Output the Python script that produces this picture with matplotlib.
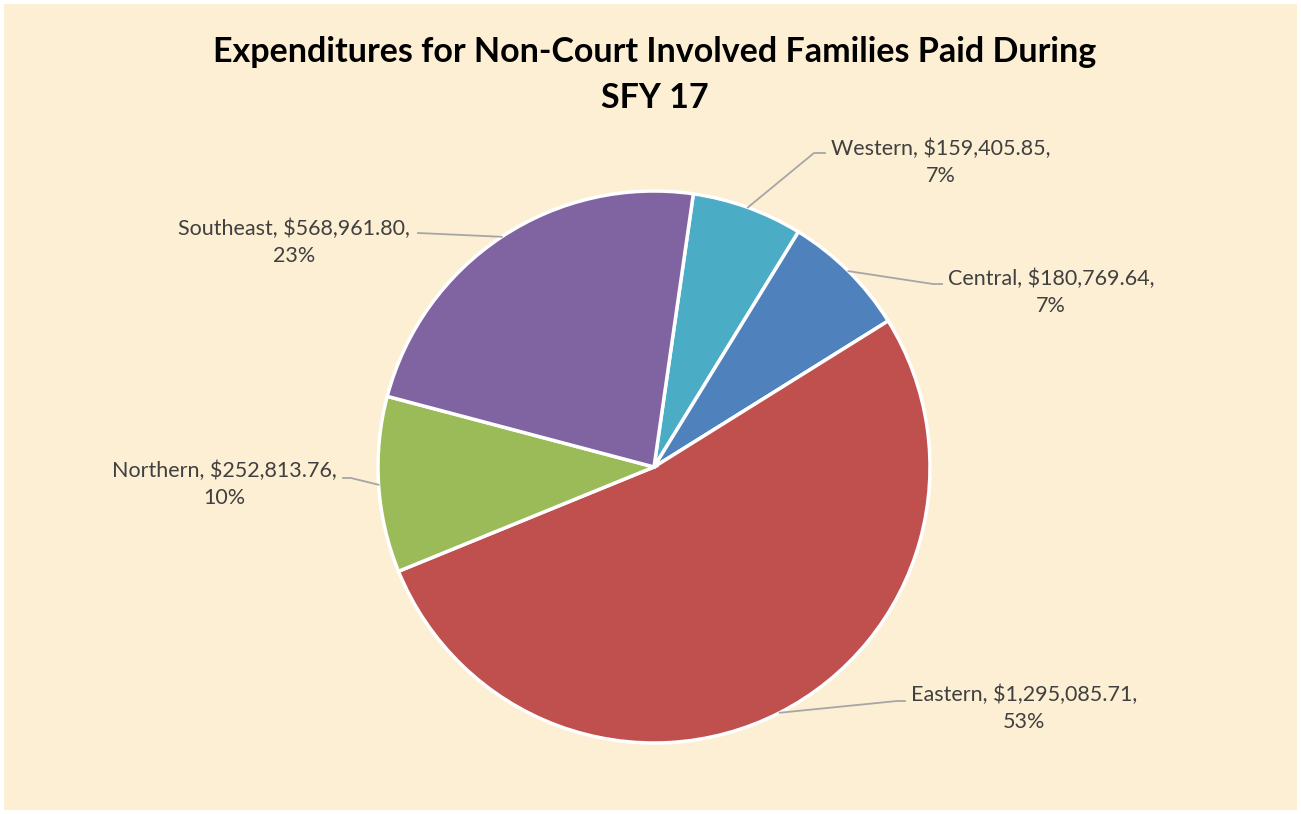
import numpy as np
import matplotlib.pyplot as plt
from matplotlib.patches import Rectangle

# data, in the order the slices go clockwise from the top
regions = ["Western", "Central", "Eastern", "Northern", "Southeast"]
amounts = [159405.85, 180769.64, 1295085.71, 252813.76, 568961.80]
pct_labels = ["7%", "7%", "53%", "10%", "23%"]   # as printed on the chart
colors = ["#4BACC6", "#4F81BD", "#C0504D", "#9BBB59", "#8064A2"]

title = "Expenditures for Non-Court Involved Families Paid During\nSFY 17"

# label layout (pixel coords, y measured from top)
label_pos = {
    "Western": (941, 162),
    "Central": (1051, 292),
    "Eastern": (1024, 708),
    "Northern": (224, 484),
    "Southeast": (294, 242),
}
# leader line elbow / end points (pixel coords, y from top)
leader_pts = {
    "Western": [(814, 153), (825, 153)],
    "Central": [(933, 284), (942, 284)],
    "Eastern": [(897, 701), (905, 701)],
    "Northern": [(351, 478), (343, 478)],
    "Southeast": [(418, 233)],
}

W, H = 1301, 814
plt.rcParams['font.family'] = ['Lato', 'DejaVu Sans']

fig = plt.figure(figsize=(W / 100, H / 100), dpi=100, facecolor="white")
ax = fig.add_axes([0, 0, 1, 1])

# parchment background with thin white border
ax.add_patch(Rectangle((4, 4), W - 8, H - 8, facecolor="#FCEFD3", edgecolor="none", zorder=0))

cx, cy, r = 654, 467, 276
start = 90 - 8.2
# y axis is inverted, so counterclock=True shows up clockwise
wedges, _ = ax.pie(amounts, colors=colors, startangle=-start, counterclock=True,
                   center=(cx, cy), radius=r, frame=True,
                   wedgeprops=dict(edgecolor="white", linewidth=2.5))
ax.set_xlim(0, W)
ax.set_ylim(H, 0)
ax.axis("off")
ax.set_aspect("equal")

for name, val, pct, w in zip(regions, amounts, pct_labels, wedges):
    mid = np.deg2rad((w.theta1 + w.theta2) / 2)
    ex = cx + r * np.cos(mid)
    ey = cy + r * np.sin(mid)
    pts = [(ex, ey)] + leader_pts[name]
    xs, ys = zip(*pts)
    ax.plot(xs, ys, color="#A6A6A6", lw=1.3, zorder=3)
    tx, ty = label_pos[name]
    ax.text(tx, ty, f"{name}, ${val:,.2f},\n{pct}", ha="center", va="center",
            fontsize=15.5, color="#404040", linespacing=1.45, zorder=4)

ax.text(655, 75, title, ha="center", va="center", fontsize=24.5, fontweight="bold",
        color="black", linespacing=1.5)

fig.savefig("out.png", dpi=100, facecolor="white")
